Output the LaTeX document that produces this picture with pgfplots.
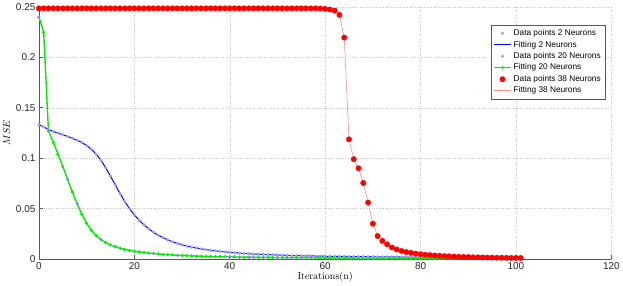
\documentclass[border=0pt]{standalone}
\usepackage{fontspec}
\usepackage{pgfplots}
\pgfplotsset{compat=1.18}
\usepackage{pgfplotstable}
\newfontfamily\hv{Liberation Sans}
\definecolor{ptcol}{rgb}{0.62,0.62,1}
\definecolor{mgreen}{rgb}{0,0.93,0}
\definecolor{pinkl}{rgb}{1,0.55,0.55}

\pgfplotstableread{
x y
0 0.1330
1 0.1310
2 0.1285
3 0.1265
4 0.1250
5 0.1232
6 0.1215
7 0.1198
8 0.1178
9 0.1155
10 0.1125
11 0.1088
12 0.1040
13 0.0980
14 0.0905
15 0.0822
16 0.0735
17 0.0650
18 0.0570
19 0.0500
20 0.0438
21 0.0385
22 0.0340
23 0.0300
24 0.0266
25 0.0237
26 0.0212
27 0.0190
28 0.0171
29 0.0155
30 0.0141
31 0.0129
32 0.0118
33 0.0109
34 0.0101
35 0.0094
36 0.0087
37 0.0081
38 0.0076
39 0.0071
40 0.0067
41 0.0063
42 0.0059
43 0.0056
44 0.0053
45 0.0050
46 0.0048
47 0.0046
48 0.0044
49 0.0042
50 0.0040
51 0.0038
52 0.0037
53 0.0035
54 0.0034
55 0.0033
56 0.0032
57 0.0031
58 0.0030
59 0.0029
60 0.0028
61 0.0027
62 0.0027
63 0.0026
64 0.0026
65 0.0025
66 0.0025
67 0.0024
68 0.0024
69 0.0023
70 0.0023
71 0.0022
72 0.0022
73 0.0021
74 0.0021
75 0.0021
76 0.0020
77 0.0020
78 0.0020
79 0.0019
80 0.0019
81 0.0019
82 0.0018
83 0.0018
84 0.0018
85 0.0017
86 0.0017
87 0.0017
88 0.0017
89 0.0016
90 0.0016
91 0.0016
92 0.0016
93 0.0015
94 0.0015
95 0.0015
96 0.0015
97 0.0014
98 0.0014
99 0.0014
100 0.0014
101 0.0014
}\bdata

\pgfplotstableread{
x y
0 0.2400
1 0.2250
2 0.1270
3 0.1160
4 0.1040
5 0.0920
6 0.0790
7 0.0665
8 0.0550
9 0.0445
10 0.0355
11 0.0285
12 0.0232
13 0.0193
14 0.0163
15 0.0140
16 0.0122
17 0.0108
18 0.0096
19 0.0086
20 0.0078
21 0.0071
22 0.0065
23 0.0060
24 0.0055
25 0.0051
26 0.0047
27 0.0044
28 0.0041
29 0.0038
30 0.0036
31 0.0034
32 0.0032
33 0.0030
34 0.0029
35 0.0027
36 0.0026
37 0.0025
38 0.0024
39 0.0023
40 0.0022
41 0.0021
42 0.0020
43 0.0019
44 0.0019
45 0.0018
46 0.0017
47 0.0017
48 0.0016
49 0.0016
50 0.0015
51 0.0015
52 0.0014
53 0.0014
54 0.0014
55 0.0013
56 0.0013
57 0.0013
58 0.0012
59 0.0012
60 0.0012
61 0.0012
62 0.0011
63 0.0011
64 0.0011
65 0.0011
66 0.0011
67 0.0010
68 0.0010
69 0.0010
70 0.0010
71 0.0010
72 0.0010
73 0.0010
74 0.0009
75 0.0009
76 0.0009
77 0.0009
78 0.0009
79 0.0009
80 0.0009
81 0.0009
82 0.0009
83 0.0009
84 0.0009
85 0.0008
86 0.0008
87 0.0008
88 0.0008
89 0.0008
90 0.0008
91 0.0008
92 0.0008
93 0.0008
94 0.0008
95 0.0008
96 0.0008
97 0.0008
98 0.0008
99 0.0008
100 0.0008
101 0.0008
}\gdata

\pgfplotstableread{
x y
0 0.2485
1 0.2485
2 0.2485
3 0.2485
4 0.2485
5 0.2485
6 0.2485
7 0.2485
8 0.2485
9 0.2485
10 0.2485
11 0.2485
12 0.2485
13 0.2485
14 0.2485
15 0.2485
16 0.2485
17 0.2485
18 0.2485
19 0.2485
20 0.2485
21 0.2485
22 0.2485
23 0.2485
24 0.2485
25 0.2485
26 0.2485
27 0.2485
28 0.2485
29 0.2485
30 0.2485
31 0.2485
32 0.2485
33 0.2485
34 0.2485
35 0.2485
36 0.2485
37 0.2485
38 0.2485
39 0.2485
40 0.2485
41 0.2485
42 0.2485
43 0.2485
44 0.2485
45 0.2485
46 0.2485
47 0.2485
48 0.2485
49 0.2485
50 0.2485
51 0.2485
52 0.2485
53 0.2485
54 0.2485
55 0.2485
56 0.2485
57 0.2485
58 0.2485
59 0.2483
60 0.2480
61 0.2473
62 0.2463
63 0.2420
64 0.2195
65 0.1187
66 0.0990
67 0.0900
68 0.0754
69 0.0560
70 0.0350
71 0.0228
72 0.0180
73 0.0146
74 0.0115
75 0.0095
76 0.0080
77 0.0069
78 0.0061
79 0.0054
80 0.0048
81 0.0043
82 0.0039
83 0.0035
84 0.0032
85 0.0029
86 0.0027
87 0.0025
88 0.0023
89 0.0021
90 0.0020
91 0.0018
92 0.0017
93 0.0016
94 0.0015
95 0.0014
96 0.0013
97 0.0013
98 0.0012
99 0.0011
100 0.0011
101 0.0010
}\rdata

\begin{document}
\begin{tikzpicture}
\begin{axis}[
  scale only axis, width=572bp, height=252bp,
  xmin=0, xmax=120, ymin=0, ymax=0.25,
  clip=false,
  axis x line*=bottom, axis y line*=left,
  axis line style={gray!70!black, line width=0.6pt, -},
  xtick={0,20,40,60,80,100,120},
  ytick={0,0.05,0.1,0.15,0.2,0.25},
  scaled y ticks=false,
  y tick label style={/pgf/number format/fixed, /pgf/number format/precision=2},
  tick align=inside, major tick length=4bp,
  tick style={gray!70!black, line width=0.5pt},
  grid=major, grid style={dotted, gray!45},
  ticklabel style={font=\hv\fontsize{10}{11}\selectfont, text=black!85},
  /pgf/number format/assume math mode=true,
  xlabel={Iterations(n)}, ylabel={$MSE$},
  xlabel style={font=\fontsize{10}{11}\selectfont, yshift=4pt},
  ylabel style={font=\fontsize{10}{11}\selectfont, yshift=-1pt},
  legend style={at={(0.9895,0.9286)}, anchor=north east, draw=gray!70!black,
    font=\hv\fontsize{8.3}{10}\selectfont, row sep=0pt, inner sep=2.5pt},
  legend cell align=left,
]
\addplot[only marks, mark=*, mark size=1.4pt, color=ptcol] table {\bdata};
\addlegendentry{Data points 2 Neurons}
\addplot[blue, line width=1pt, no markers] table {\bdata};
\addlegendentry{Fitting 2 Neurons}
\addplot[only marks, mark=*, mark size=1.4pt, color=ptcol] table {\gdata};
\addlegendentry{Data points 20 Neurons}
\addplot[mgreen, line width=1.4pt, mark=+, mark size=1.5pt, mark options={line width=0.6pt}] table {\gdata};
\addlegendentry{Fitting 20 Neurons}
\addplot[only marks, mark=*, mark size=2.7pt, color=red] table {\rdata};
\addlegendentry{Data points 38 Neurons}
\addplot[pinkl, line width=0.6pt, no markers] table {\rdata};
\addlegendentry{Fitting 38 Neurons}
\end{axis}
\end{tikzpicture}
\end{document}
